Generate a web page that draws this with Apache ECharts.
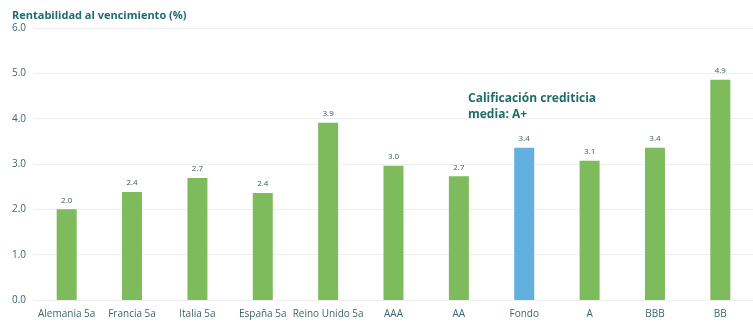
<!DOCTYPE html>
<html>
<head>
<meta charset="utf-8">
<script src="https://cdn.jsdelivr.net/npm/echarts@6/dist/echarts.min.js"></script>
<style>
  html, body { margin: 0; padding: 0; background: #ffffff; }
  #chart { width: 753px; height: 324px; }
</style>
</head>
<body>
<div id="chart"></div>
<script>
// Yield to maturity by benchmark / rating bucket
const categories = ['Alemania 5a', 'Francia 5a', 'Italia 5a', 'España 5a', 'Reino Unido 5a',
                    'AAA', 'AA', 'Fondo', 'A', 'BBB', 'BB'];
const yields = [2.0, 2.38, 2.69, 2.36, 3.91, 2.96, 2.73, 3.36, 3.07, 3.36, 4.86];
const highlightCategory = 'Fondo';
const yTicks = [0, 1, 2, 3, 4, 5, 6];

const GREEN = '#7dbb5d';
const BLUE = '#62b0e2';
const TEAL = '#1f6d6a';
const AXIS_TEXT = '#3a666b';
const FONT = '"Open Sans", "Noto Sans", sans-serif';

const chart = echarts.init(document.getElementById('chart'), null, { renderer: 'canvas' });

chart.setOption({
  animation: false,
  backgroundColor: '#ffffff',
  textStyle: { fontFamily: FONT },
  title: {
    text: 'Rentabilidad al vencimiento (%)',
    left: 7,
    top: 5,
    textStyle: { fontFamily: FONT, fontSize: 11, fontWeight: 'bold', color: TEAL }
  },
  grid: { left: 34, right: 0, top: 28, bottom: 24, containLabel: false },
  xAxis: {
    type: 'category',
    data: categories,
    axisLine: { show: false },
    axisTick: { show: false },
    axisLabel: { fontFamily: FONT, fontSize: 10, color: AXIS_TEXT, margin: 9, interval: 0 }
  },
  yAxis: {
    type: 'value',
    min: yTicks[0],
    max: yTicks[yTicks.length - 1],
    interval: 1,
    axisLine: { show: false },
    axisTick: { show: false },
    axisLabel: {
      fontFamily: FONT, fontSize: 10, color: AXIS_TEXT, margin: 8,
      formatter: v => v.toFixed(1)
    },
    splitLine: { lineStyle: { color: '#eeeeee', width: 1 } }
  },
  series: [{
    type: 'bar',
    barWidth: 20,
    data: yields.map((v, i) => ({
      value: v,
      itemStyle: { color: categories[i] === highlightCategory ? BLUE : GREEN }
    })),
    label: {
      show: true,
      position: 'top',
      distance: 5,
      fontFamily: FONT,
      fontSize: 8,
      color: '#3f5a5c',
      formatter: p => p.value.toFixed(1)
    }
  }],
  graphic: [{
    type: 'text',
    left: 468,
    top: 91,
    style: {
      text: 'Calificación crediticia\nmedia: A+',
      font: 'bold 12px ' + FONT,
      fill: TEAL,
      lineHeight: 16
    }
  }]
});
</script>
</body>
</html>
